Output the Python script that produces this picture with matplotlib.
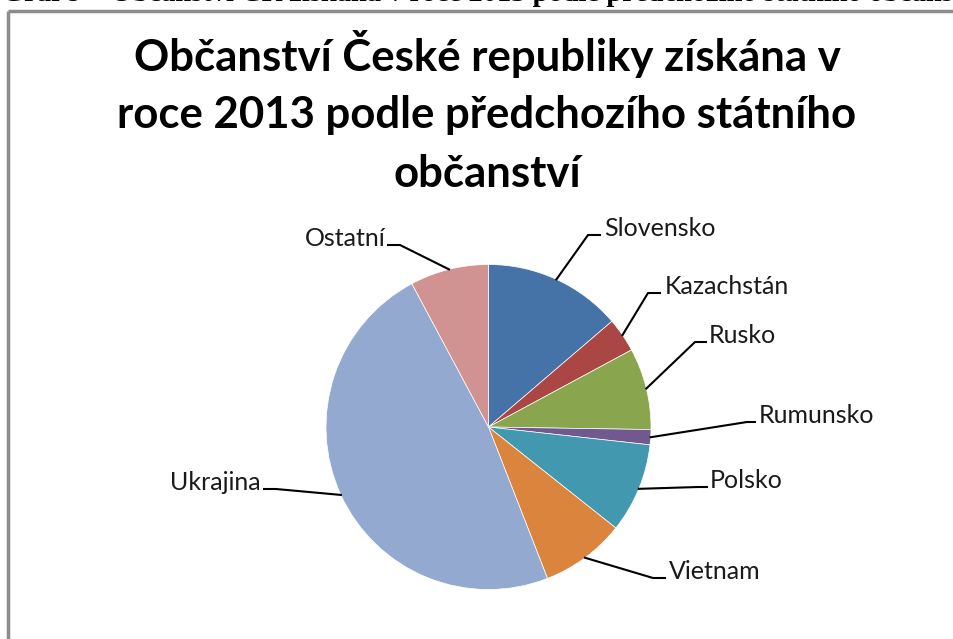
import matplotlib
matplotlib.use("Agg")
import matplotlib.pyplot as plt
import numpy as np

W, H = 954, 639

countries = ["Slovensko", "Kazachstán", "Rusko", "Rumunsko", "Polsko", "Vietnam", "Ukrajina", "Ostatní"]
shares = [13.7, 3.4, 8.1, 1.5, 8.9, 8.4, 48.0, 7.8]  # % podíl
colors = ["#4572A7", "#AA4643", "#89A54E", "#71588F", "#4198AF", "#DB843D", "#93A9CF", "#D19392"]

title_lines = ["Občanství České republiky získána v",
               "roce 2013 podle předchozího státního",
               "občanství"]
header = "Graf 9 – Občanství ČR získaná v roce 2013 podle předchozího státního občanství"

# pie placement (pixels) and label layout: elbow, line end, text x, alignment
CX, CY, R = 488.5, 427.0, 162.5
LAYOUT = {
    "Slovensko": ((588, 235), (600, 235), 604, "left"),
    "Kazachstán": ((648, 293), (660, 293), 665, "left"),
    "Rusko": ((695, 342), (706, 342), 709, "left"),
    "Rumunsko": ((747, 422), (755, 422), 759, "left"),
    "Polsko": ((698, 487), (707, 487), 710, "left"),
    "Vietnam": ((653, 578), (665, 578), 669, "left"),
    "Ukrajina": ((276, 489), (264, 489), 261, "right"),
    "Ostatní": ((400, 245), (388, 245), 386, "right"),
}

fig = plt.figure(figsize=(W / 100, H / 100), dpi=100)
ax = fig.add_axes([(CX - R) / W, (H - CY - R) / H, 2 * R / W, 2 * R / H])
ax.pie(shares, colors=colors, startangle=90, counterclock=False,
       wedgeprops=dict(edgecolor="white", linewidth=0.5))
ax.set_xlim(-1, 1); ax.set_ylim(-1, 1)
ax.set_aspect("equal")

ov = fig.add_axes([0, 0, 1, 1], zorder=5)
ov.set_xlim(0, W); ov.set_ylim(H, 0)
ov.axis("off")
ov.patch.set_alpha(0)

# chart border (only top and left visible in the crop)
ov.plot([8.5, W], [10.5, 10.5], color="#8c8c8c", lw=2.5, solid_capstyle="butt")
ov.plot([8.5, 8.5], [10.5, H], color="#8c8c8c", lw=2.5, solid_capstyle="butt")

# cut-off caption above the chart
ov.text(2, 1.0, header, fontsize=20.5, fontweight="bold", family="Liberation Serif",
        ha="left", va="baseline", color="black")

for line, yb in zip(title_lines, [71, 128, 187]):
    ov.text(487, yb, line, fontsize=31.5, fontweight="bold", family="Lato",
            ha="center", va="baseline", color="black")

tot = sum(shares)
edges = np.cumsum([0] + shares) / tot * 360
mids = (edges[:-1] + edges[1:]) / 2
for name, m in zip(countries, mids):
    a = np.deg2rad(m)
    px, py = CX + R * np.sin(a), CY - R * np.cos(a)
    elbow, end, tx, side = LAYOUT[name]
    ov.plot([px, elbow[0], end[0]], [py, elbow[1], end[1]], color="black", lw=1.5)
    ov.text(tx, end[1] + 1, name, fontsize=18, family="Lato", ha=side, va="baseline",
            color="#1a1a1a")

fig.savefig("out.png", dpi=100)
